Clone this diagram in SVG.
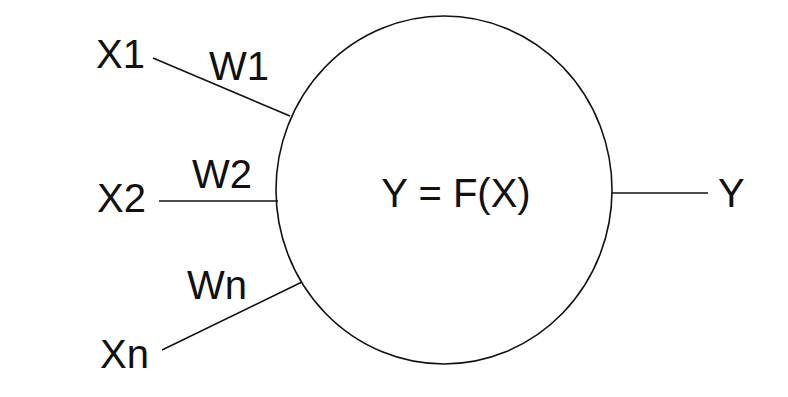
<svg xmlns="http://www.w3.org/2000/svg" width="788" height="397" viewBox="0 0 788 397">
<style>
.t{font-family:"Liberation Sans",Arial,sans-serif;font-size:40px;fill:#111}
.l{stroke:#111;stroke-width:1.6;fill:none}
</style>
<rect width="788" height="397" fill="#fff"/>
<g id="connectors">
<line class="l" x1="153" y1="58" x2="290" y2="116"/>
<line class="l" x1="159" y1="201" x2="278" y2="201"/>
<line class="l" x1="162" y1="350" x2="302" y2="282"/>
<line class="l" x1="612" y1="193" x2="708" y2="193"/>
</g>
<g id="neuron">
<ellipse class="l" cx="444" cy="190" rx="168" ry="174"/>
<text class="t" x="456" y="207" text-anchor="middle">Y = F(X)</text>
</g>
<g id="x1"><text class="t" x="96" y="68">X1</text></g>
<g id="x2"><text class="t" x="97" y="212">X2</text></g>
<g id="xn"><text class="t" x="100" y="368">Xn</text></g>
<g id="y"><text class="t" x="718" y="207">Y</text></g>
<g id="w1"><text class="t" x="209" y="80">W1</text></g>
<g id="w2"><text class="t" x="192" y="188">W2</text></g>
<g id="wn"><text class="t" x="187" y="299">Wn</text></g>
</svg>
